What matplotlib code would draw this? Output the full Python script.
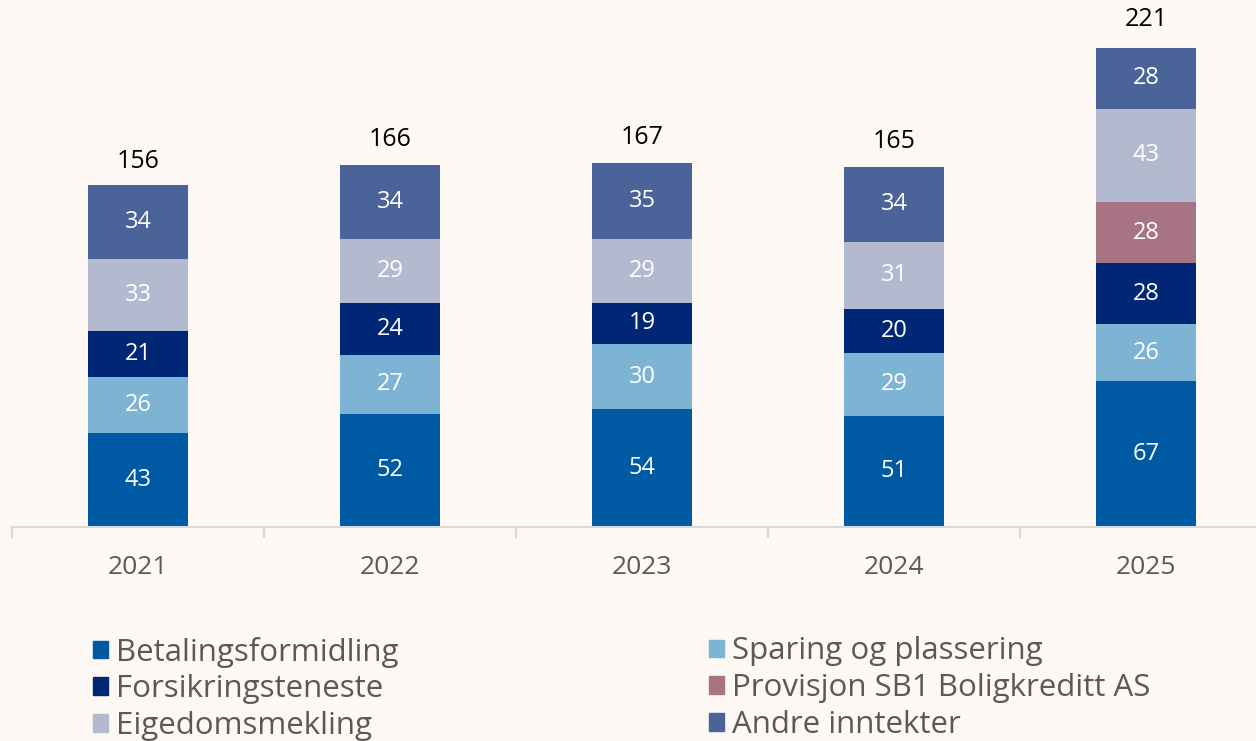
import matplotlib.pyplot as plt
import numpy as np
from matplotlib.patches import Patch

# fee and commission income by year, stacked per source
years = ['2021', '2022', '2023', '2024', '2025']
betaling = [43, 52, 54, 51, 67]
sparing = [26, 27, 30, 29, 26]
forsikring = [21, 24, 19, 20, 28]
provisjon = [0, 0, 0, 0, 28]
eigedom = [33, 29, 29, 31, 43]
andre = [34, 34, 35, 34, 28]
totals = [156, 166, 167, 165, 221]

series = [
    ('Betalingsformidling', betaling, '#005AA3'),
    ('Sparing og plassering', sparing, '#7DB4D4'),
    ('Forsikringsteneste', forsikring, '#002776'),
    ('Provisjon SB1 Boligkreditt AS', provisjon, '#A87384'),
    ('Eigedomsmekling', eigedom, '#B3BACF'),
    ('Andre inntekter', andre, '#4A6399'),
]

bg = '#FDF8F4'
grey = '#595959'
plt.rcParams['font.family'] = ['Open Sans', 'DejaVu Sans']

fig = plt.figure(figsize=(12.56, 7.41), dpi=100, facecolor=bg)
ax = fig.add_axes([12 / 1256, 1 - 527 / 741, 1260 / 1256, 523 / 741])
ax.set_facecolor(bg)

x = np.arange(len(years))
bottom = np.zeros(len(years))
handles = {}
for name, vals, col in series:
    vals = np.array(vals, dtype=float)
    ax.bar(x, vals, 0.4, bottom=bottom, color=col, linewidth=0)
    handles[name] = Patch(color=col)
    for xi, b, v in zip(x, bottom, vals):
        if v > 0:
            ax.text(xi, b + v / 2, f'{v:.0f}', ha='center', va='center',
                    color='white', fontsize=17)
    bottom += vals

for xi, t in zip(x, totals):
    ax.text(xi, t + 6, str(t), ha='center', va='bottom', color='black', fontsize=18)

ax.set_xlim(-0.5, len(years) - 0.5)
ax.set_ylim(0, 240)
ax.set_yticks([])
for s in ['left', 'right', 'top']:
    ax.spines[s].set_visible(False)
ax.spines['bottom'].set_color('#D9D9D9')
ax.spines['bottom'].set_linewidth(1.5)
ax.set_xticks(x)
ax.set_xticklabels(years, fontsize=19, color=grey)
ax.tick_params(axis='x', which='major', length=0, pad=20)
ax.set_xticks(np.arange(-0.5, len(years)), minor=True)
ax.tick_params(axis='x', which='minor', length=8, width=1.5, color='#D9D9D9')

# two legend columns placed separately
col1 = ['Betalingsformidling', 'Forsikringsteneste', 'Eigedomsmekling']
col2 = ['Sparing og plassering', 'Provisjon SB1 Boligkreditt AS', 'Andre inntekter']
for names, x0 in [(col1, 80 / 1256), (col2, 696 / 1256)]:
    leg = fig.legend([handles[n] for n in names], names, loc='upper left',
                     bbox_to_anchor=(x0, 1 - 624 / 741), frameon=False,
                     fontsize=22.5, handlelength=0.5, handleheight=0.5,
                     handletextpad=0.25, labelspacing=0.22, borderaxespad=0)
    for t in leg.get_texts():
        t.set_color(grey)

fig.savefig('out.png', dpi=100, facecolor=bg)
